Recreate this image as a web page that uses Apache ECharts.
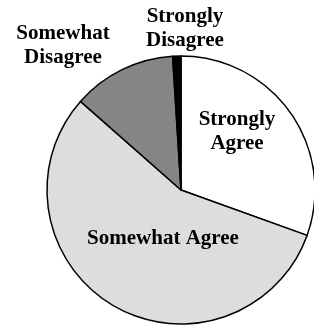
<!DOCTYPE html>
<html>
<head>
<meta charset="utf-8">
<script src="https://cdn.jsdelivr.net/npm/echarts@6/dist/echarts.min.js"></script>
<style>
  html, body { margin: 0; padding: 0; background: #fff; }
  #container { width: 314px; height: 330px; }
</style>
</head>
<body>
<div id="container"></div>
<script>
var categories = ['Strongly\nAgree', 'Somewhat Agree', 'Somewhat\nDisagree', 'Strongly\nDisagree'];
var values = [30.5, 56, 12.5, 1];

var colors = ['#ffffff', '#dddddd', '#858585', '#000000'];
// label centres in pixels
var labelPos = [[237, 132], [163, 239], [63, 46], [185, 29]];

var dom = document.getElementById('container');
var myChart = echarts.init(dom, null, { renderer: 'canvas' });

var option = {
    animation: false,
    series: [
        {
            type: 'pie',
            center: [181, 190],
            radius: 134,
            startAngle: 90,
            clockwise: true,
            avoidLabelOverlap: false,
            data: categories.map(function (c, i) {
                return { name: c, value: values[i], itemStyle: { color: colors[i] } };
            }),
            itemStyle: {
                borderColor: '#000',
                borderWidth: 1.5
            },
            label: {
                show: true,
                position: 'inside',
                formatter: '{b}',
                fontFamily: 'Liberation Serif',
                fontWeight: 'bold',
                fontSize: 21,
                lineHeight: 24,
                color: '#000',
                align: 'center'
            },
            labelLine: { show: false },
            labelLayout: function (params) {
                var p = labelPos[params.dataIndex];
                return { x: p[0], y: p[1], align: 'center', verticalAlign: 'middle' };
            }
        }
    ]
};

myChart.setOption(option);
window.addEventListener('resize', myChart.resize);
</script>
</body>
</html>
